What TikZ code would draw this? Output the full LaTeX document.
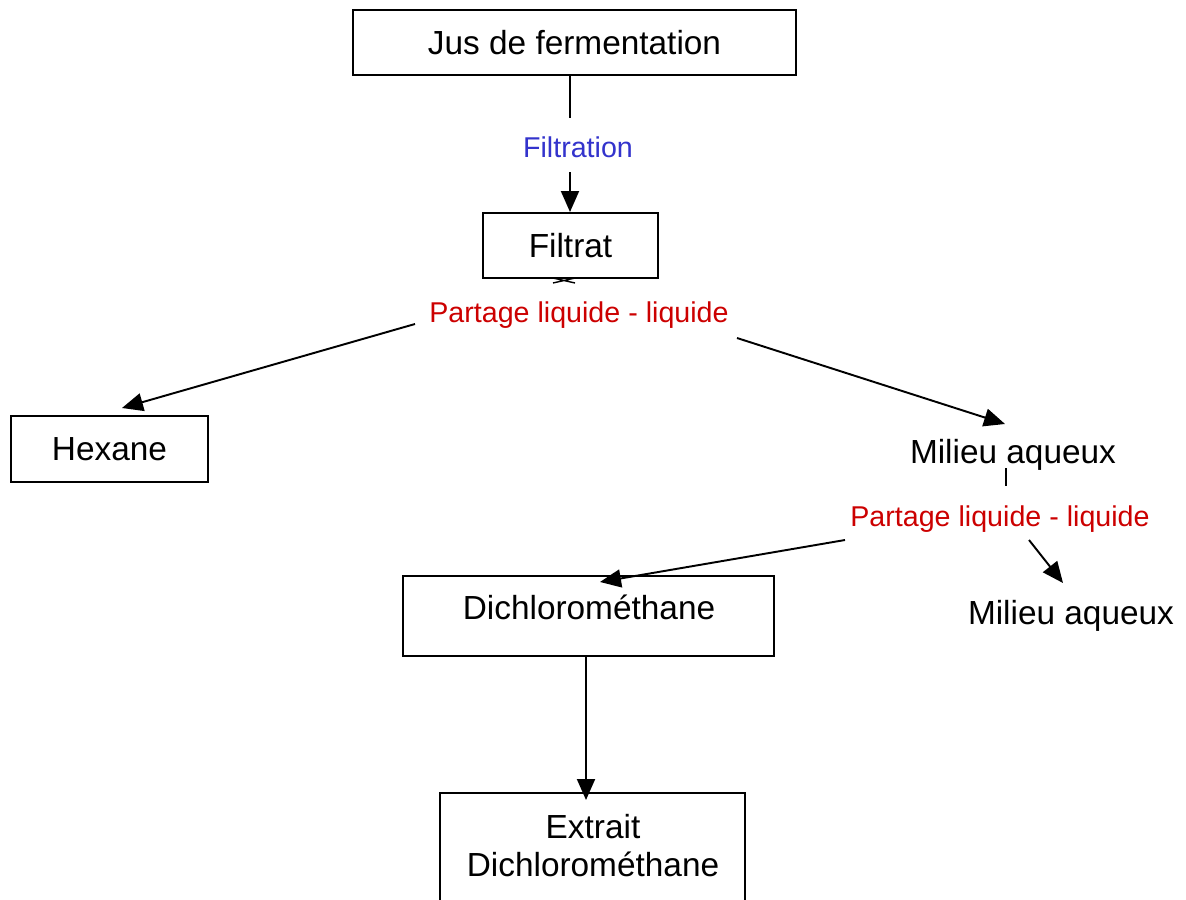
\documentclass[tikz,border=0pt]{standalone}
\usepackage{fontspec}
\setmainfont{Liberation Sans}
\usetikzlibrary{arrows.meta}
\definecolor{annblue}{RGB}{51,51,204}
\definecolor{annred}{RGB}{204,0,0}
\begin{document}
\begin{tikzpicture}[x=0.02cm,y=-0.02cm,
 box/.style={draw,line width=1.15pt,inner sep=0pt},
 main/.style={font=\fontsize{19}{21.6}\selectfont},
 ann/.style={font=\fontsize{16.3}{19}\selectfont},
 arr/.style={line width=1.1pt,-{Triangle[length=0.42cm,width=0.36cm]}},
 ln/.style={line width=1.1pt}]
\useasboundingbox (0,0) rectangle (1186,899);
\clip (0,0) rectangle (1186,899);
% nodes
\node[box,main,minimum width=8.86cm,minimum height=1.3cm] (jus) at (574.5,42.5) {Jus de fermentation};
\node[ann,text=annblue] (filt) at (578,147) {Filtration};
\node[box,main,minimum width=3.5cm,minimum height=1.3cm] (filtrat) at (570.5,245.5) {Filtrat};
\node[ann,text=annred] (pll1) at (579,315) {Partage liquide - liquide};
\node[box,main,minimum width=3.94cm,minimum height=1.32cm] (hex) at (109.5,449) {Hexane};
\node[main] (mil1) at (1013,455) {Milieu aqueux};
\node[ann,text=annred] (pll2) at (1000,519) {Partage liquide - liquide};
\node[box,minimum width=7.42cm,minimum height=1.6cm] (dich) at (588.5,616) {};
\node[main] (dicht) at (589,607) {Dichlorométhane};
\node[main] (mil2) at (1071,616) {Milieu aqueux};
\node[box,minimum width=6.1cm,minimum height=2.94cm] (ext) at (592.5,866.5) {};
\node[main,align=center] (extt) at (593,846) {Extrait\\Dichlorométhane};
% coordinates for free ends
\coordinate (c1) at (570,118);
\coordinate (c2) at (570,172);
\coordinate (l1) at (415,324);
\coordinate (hexin) at (122,408);
\coordinate (r1) at (737,338);
\coordinate (milin) at (1005,424);
\coordinate (t1) at (1006,468);
\coordinate (t2) at (1006,486);
\coordinate (l2) at (845,540);
\coordinate (dichin) at (600,582);
\coordinate (r2) at (1029,540);
\coordinate (mil2in) at (1063,583);
\coordinate (c3) at (586,800);
\coordinate (x1) at (553,278);
\coordinate (x2) at (575,283);
\coordinate (x3) at (553,283);
\coordinate (x4) at (575,278);
% connectors
\draw[ln] (c1 |- jus.south) -- (c1);
\draw[arr] (c2) -- (c2 |- filtrat.north);
\draw[line width=0.8pt] (x1) -- (x2) (x3) -- (x4);
\draw[arr] (l1) -- (hexin);
\draw[arr] (r1) -- (milin);
\draw[line width=0.8pt] (t1) -- (t2);
\draw[arr] (l2) -- (dichin);
\draw[arr] (r2) -- (mil2in);
\draw[arr] (c3 |- dich.south) -- (c3);
\end{tikzpicture}
\end{document}
